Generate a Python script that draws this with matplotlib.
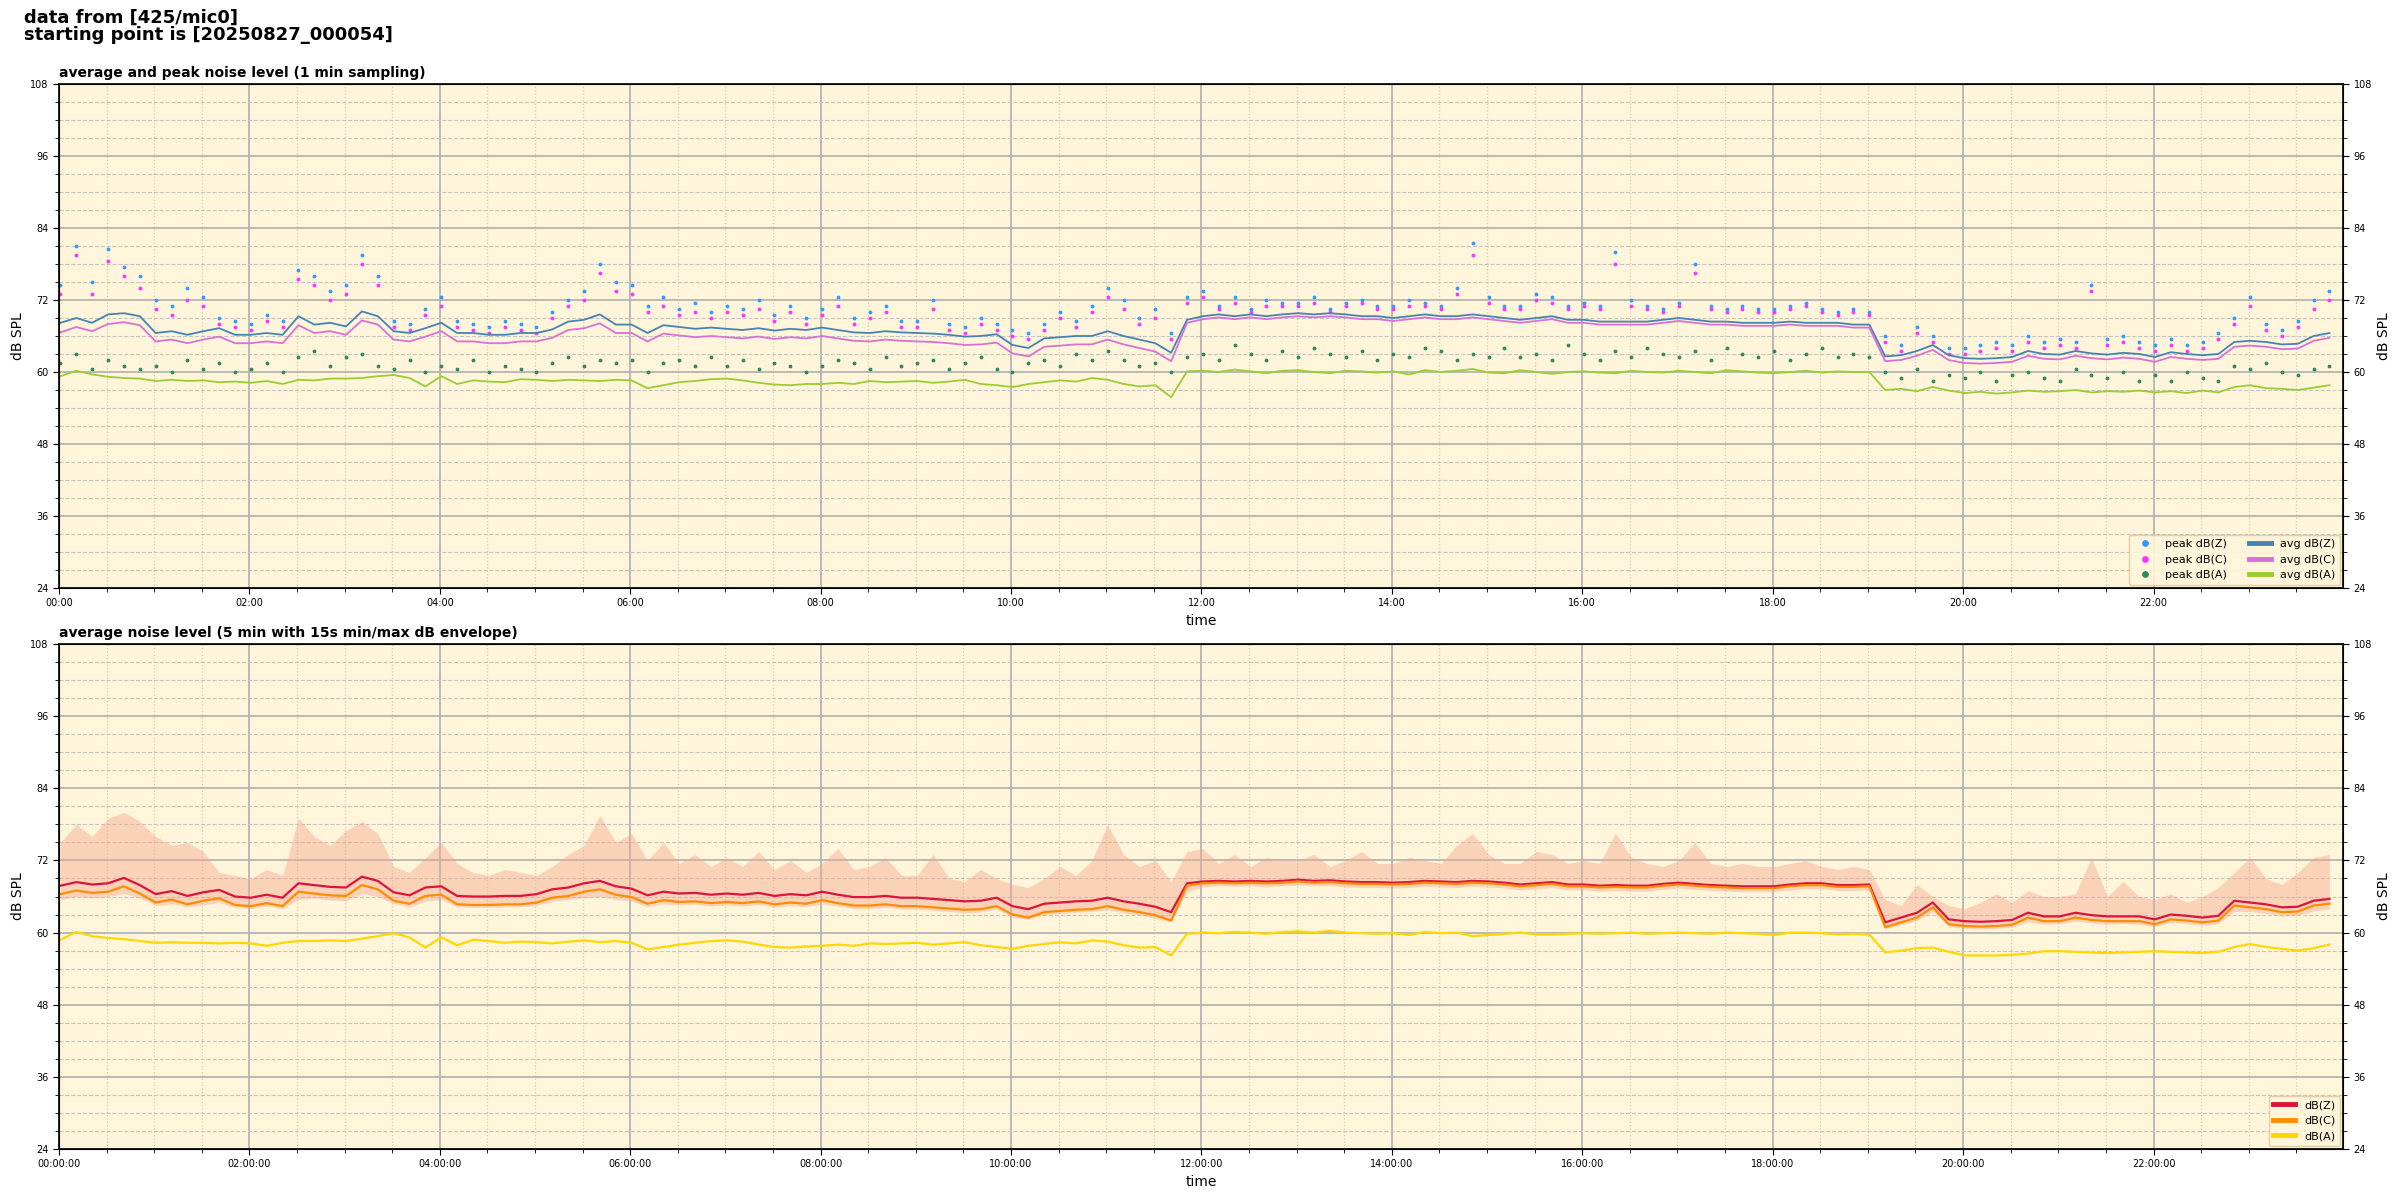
import numpy as np
import pandas as pd
import matplotlib
matplotlib.use("Agg")
from matplotlib import pyplot as plt
import matplotlib.dates as mdates
from matplotlib.ticker import MultipleLocator

# 10 min readings, 24 rows of 6 (one row per hour)
avg_z = [
    68.2, 69.0, 68.2, 69.6, 69.8, 69.3,
    66.5, 66.8, 66.2, 66.8, 67.3, 66.2,
    66.2, 66.5, 66.2, 69.3, 67.9, 68.2,
    67.6, 70.1, 69.3, 66.8, 66.5, 67.3,
    68.2, 66.5, 66.5, 66.2, 66.2, 66.5,
    66.5, 67.1, 68.4, 68.7, 69.6, 67.9,
    67.9, 66.5, 67.8, 67.5, 67.2, 67.4,
    67.2, 67.0, 67.3, 66.9, 67.2, 67.0,
    67.4, 67.0, 66.6, 66.5, 66.8, 66.6,
    66.5, 66.4, 66.2, 65.9, 66.0, 66.3,
    64.5, 64.0, 65.6, 65.8, 66.0, 66.0,
    66.8, 66.0, 65.4, 64.8, 63.2, 68.7,
    69.3, 69.6, 69.3, 69.6, 69.3, 69.6,
    69.8, 69.6, 69.8, 69.6, 69.3, 69.3,
    69.0, 69.3, 69.6, 69.3, 69.3, 69.6,
    69.3, 69.0, 68.7, 69.0, 69.3, 68.7,
    68.7, 68.4, 68.4, 68.4, 68.4, 68.7,
    69.0, 68.7, 68.4, 68.4, 68.2, 68.2,
    68.2, 68.4, 68.2, 68.2, 68.2, 67.9,
    67.9, 62.6, 62.8, 63.5, 64.5, 62.8,
    62.3, 62.2, 62.3, 62.5, 63.5, 63.0,
    62.9, 63.5, 63.1, 62.9, 63.2, 63.0,
    62.5, 63.3, 63.0, 62.8, 63.0, 65.0,
    65.2, 65.0, 64.6, 64.7, 66.0, 66.5,
]
avg_c = [
    66.6, 67.5, 66.8, 68.0, 68.3, 67.8,
    65.1, 65.4, 64.8, 65.4, 65.9, 64.8,
    64.8, 65.1, 64.8, 67.8, 66.5, 66.8,
    66.2, 68.6, 67.9, 65.4, 65.1, 65.9,
    66.8, 65.1, 65.1, 64.8, 64.8, 65.1,
    65.1, 65.7, 67.0, 67.3, 68.1, 66.5,
    66.5, 65.1, 66.4, 66.1, 65.8, 66.0,
    65.8, 65.6, 65.9, 65.5, 65.8, 65.6,
    66.0, 65.6, 65.2, 65.1, 65.4, 65.2,
    65.1, 65.0, 64.8, 64.5, 64.6, 64.9,
    63.1, 62.6, 64.2, 64.4, 64.6, 64.6,
    65.4, 64.6, 64.0, 63.4, 61.8, 68.2,
    68.8, 69.1, 68.8, 69.1, 68.8, 69.1,
    69.3, 69.1, 69.3, 69.1, 68.8, 68.8,
    68.5, 68.8, 69.1, 68.8, 68.8, 69.1,
    68.8, 68.5, 68.2, 68.5, 68.8, 68.2,
    68.2, 67.9, 67.9, 67.9, 67.9, 68.2,
    68.5, 68.2, 67.9, 67.9, 67.7, 67.7,
    67.7, 67.9, 67.7, 67.7, 67.7, 67.4,
    67.4, 61.8, 62.0, 62.7, 63.7, 62.0,
    61.5, 61.4, 61.5, 61.7, 62.7, 62.2,
    62.1, 62.7, 62.3, 62.1, 62.4, 62.2,
    61.7, 62.5, 62.2, 62.0, 62.2, 64.2,
    64.4, 64.2, 63.8, 63.9, 65.2, 65.7,
]
avg_a = [
    59.3, 60.2, 59.6, 59.2, 59.0, 58.9,
    58.5, 58.7, 58.5, 58.6, 58.3, 58.4,
    58.2, 58.5, 58.0, 58.7, 58.6, 58.9,
    58.9, 59.0, 59.3, 59.5, 59.0, 57.6,
    59.3, 58.0, 58.6, 58.4, 58.3, 58.8,
    58.7, 58.5, 58.7, 58.6, 58.5, 58.7,
    58.6, 57.3, 57.8, 58.3, 58.5, 58.8,
    58.9, 58.6, 58.2, 57.9, 57.8, 58.0,
    58.0, 58.2, 58.0, 58.5, 58.3, 58.4,
    58.5, 58.2, 58.4, 58.7, 58.0, 57.8,
    57.5, 58.0, 58.3, 58.6, 58.4, 59.0,
    58.7, 58.0, 57.6, 57.8, 55.8, 60.1,
    60.2, 60.0, 60.4, 60.1, 59.8, 60.2,
    60.3, 60.0, 59.8, 60.2, 60.1, 59.9,
    60.1, 59.6, 60.3, 60.0, 60.2, 60.5,
    59.9, 59.8, 60.3, 60.0, 59.7, 60.0,
    60.1, 59.9, 59.8, 60.2, 60.0, 59.9,
    60.2, 60.0, 59.8, 60.3, 60.1, 59.9,
    59.8, 60.0, 60.2, 59.9, 60.1, 60.0,
    60.0, 57.0, 57.2, 56.8, 57.5, 56.9,
    56.5, 56.7, 56.4, 56.6, 56.9, 56.7,
    56.8, 57.0, 56.6, 56.8, 56.7, 56.9,
    56.6, 56.8, 56.5, 56.9, 56.6, 57.5,
    57.8, 57.3, 57.2, 57.0, 57.4, 57.8,
]
peak_z = [
    74.5, 81.0, 75.0, 80.5, 77.5, 76.0,
    72.0, 71.0, 74.0, 72.5, 69.0, 68.5,
    68.0, 69.5, 68.5, 77.0, 76.0, 73.5,
    74.5, 79.5, 76.0, 68.5, 68.0, 70.5,
    72.5, 68.5, 68.0, 67.5, 68.5, 68.0,
    67.5, 70.0, 72.0, 73.5, 78.0, 75.0,
    74.5, 71.0, 72.5, 70.5, 71.5, 70.0,
    71.0, 70.5, 72.0, 69.5, 71.0, 69.0,
    70.5, 72.5, 69.0, 70.0, 71.0, 68.5,
    68.5, 72.0, 68.0, 67.5, 69.0, 68.0,
    67.0, 66.5, 68.0, 70.0, 68.5, 71.0,
    74.0, 72.0, 69.0, 70.5, 66.5, 72.5,
    73.5, 71.0, 72.5, 70.5, 72.0, 71.5,
    71.5, 72.5, 70.5, 71.5, 72.0, 71.0,
    71.0, 72.0, 71.5, 71.0, 74.0, 81.5,
    72.5, 71.0, 71.0, 73.0, 72.5, 71.0,
    71.5, 71.0, 80.0, 72.0, 71.0, 70.5,
    71.5, 78.0, 71.0, 70.5, 71.0, 70.5,
    70.5, 71.0, 71.5, 70.5, 70.0, 70.5,
    70.0, 66.0, 64.5, 67.5, 66.0, 64.0,
    64.0, 64.5, 65.0, 64.5, 66.0, 65.0,
    65.5, 65.0, 74.5, 65.5, 66.0, 65.0,
    64.5, 65.5, 64.5, 65.0, 66.5, 69.0,
    72.5, 68.0, 67.0, 68.5, 72.0, 73.5,
]
peak_c = [
    73.0, 79.5, 73.0, 78.5, 76.0, 74.0,
    70.5, 69.5, 72.0, 71.0, 68.0, 67.5,
    67.0, 68.5, 67.5, 75.5, 74.5, 72.0,
    73.0, 78.0, 74.5, 67.5, 67.0, 69.5,
    71.0, 67.5, 67.0, 66.5, 67.5, 67.0,
    66.5, 69.0, 71.0, 72.0, 76.5, 73.5,
    73.0, 70.0, 71.0, 69.5, 70.0, 69.0,
    70.0, 69.5, 70.5, 68.5, 70.0, 68.0,
    69.5, 71.0, 68.0, 69.0, 70.0, 67.5,
    67.5, 70.5, 67.0, 66.5, 68.0, 67.0,
    66.0, 65.5, 67.0, 69.0, 67.5, 70.0,
    72.5, 70.5, 68.0, 69.0, 65.5, 71.5,
    72.5, 70.5, 71.5, 70.0, 71.0, 71.0,
    71.0, 71.5, 70.0, 71.0, 71.5, 70.5,
    70.5, 71.0, 71.0, 70.5, 73.0, 79.5,
    71.5, 70.5, 70.5, 72.0, 71.5, 70.5,
    71.0, 70.5, 78.0, 71.0, 70.5, 70.0,
    71.0, 76.5, 70.5, 70.0, 70.5, 70.0,
    70.0, 70.5, 71.0, 70.0, 69.5, 70.0,
    69.5, 65.0, 63.5, 66.5, 65.0, 63.0,
    63.0, 63.5, 64.0, 63.5, 65.0, 64.0,
    64.5, 64.0, 73.5, 64.5, 65.0, 64.0,
    63.5, 64.5, 63.5, 64.0, 65.5, 68.0,
    71.0, 67.0, 66.0, 67.5, 70.5, 72.0,
]
peak_a = [
    61.5, 63.0, 60.5, 62.0, 61.0, 60.5,
    61.0, 60.0, 62.0, 60.5, 61.5, 60.0,
    60.5, 61.5, 60.0, 62.5, 63.5, 61.0,
    62.5, 63.0, 61.0, 60.5, 62.0, 60.0,
    61.0, 60.5, 62.0, 60.0, 61.0, 60.5,
    60.0, 61.5, 62.5, 61.0, 62.0, 61.5,
    62.0, 60.0, 61.5, 62.0, 61.0, 62.5,
    61.0, 62.0, 60.5, 61.5, 61.0, 60.0,
    61.0, 62.0, 61.5, 60.5, 62.5, 61.0,
    61.5, 62.0, 60.5, 61.5, 62.5, 60.5,
    60.0, 61.5, 62.0, 61.0, 63.0, 62.0,
    63.5, 62.0, 61.0, 61.5, 60.0, 62.5,
    63.0, 62.0, 64.5, 63.0, 62.0, 63.5,
    62.5, 64.0, 63.0, 62.5, 63.5, 62.0,
    63.0, 62.5, 64.0, 63.5, 62.0, 63.0,
    62.5, 64.0, 62.5, 63.0, 62.0, 64.5,
    63.0, 62.0, 63.5, 62.5, 64.0, 63.0,
    62.5, 63.5, 62.0, 64.0, 63.0, 62.5,
    63.5, 62.0, 63.0, 64.0, 62.5, 63.0,
    62.5, 60.0, 59.0, 60.5, 58.5, 59.5,
    59.0, 60.0, 58.5, 59.5, 60.0, 59.0,
    58.5, 60.5, 59.5, 59.0, 60.0, 58.5,
    59.5, 58.5, 60.0, 59.0, 58.5, 61.0,
    60.5, 61.5, 60.0, 59.5, 60.5, 61.0,
]
# lower panel: 5 min averages and 15 s envelope, read every 10 min
env_z = [
    67.8, 68.4, 68.0, 68.2, 69.1, 67.9,
    66.4, 66.9, 66.1, 66.7, 67.1, 66.0,
    65.8, 66.3, 65.8, 68.2, 67.9, 67.6,
    67.5, 69.3, 68.6, 66.7, 66.2, 67.5,
    67.7, 66.1, 66.0, 66.0, 66.1, 66.1,
    66.4, 67.2, 67.5, 68.2, 68.6, 67.7,
    67.3, 66.2, 66.8, 66.5, 66.6, 66.3,
    66.5, 66.3, 66.6, 66.1, 66.4, 66.2,
    66.8, 66.3, 65.9, 65.9, 66.1, 65.8,
    65.8, 65.6, 65.4, 65.2, 65.3, 65.8,
    64.4, 63.9, 64.8, 65.0, 65.2, 65.3,
    65.8, 65.2, 64.8, 64.3, 63.4, 68.2,
    68.5, 68.6, 68.5, 68.6, 68.5, 68.6,
    68.8, 68.6, 68.7, 68.5, 68.4, 68.4,
    68.3, 68.4, 68.6, 68.5, 68.4, 68.6,
    68.5, 68.3, 68.0, 68.2, 68.4, 68.0,
    68.0, 67.8, 67.9, 67.8, 67.8, 68.1,
    68.3, 68.1, 67.9, 67.8, 67.7, 67.7,
    67.7, 68.0, 68.2, 68.2, 67.9, 67.9,
    68.0, 61.7, 62.5, 63.3, 65.0, 62.2,
    61.9, 61.8, 61.9, 62.1, 63.3, 62.7,
    62.7, 63.3, 62.9, 62.7, 62.7, 62.7,
    62.2, 63.0, 62.8, 62.5, 62.8, 65.3,
    65.0, 64.7, 64.2, 64.3, 65.3, 65.6,
]
env_c = [
    66.4, 67.0, 66.6, 66.8, 67.7, 66.5,
    65.0, 65.5, 64.7, 65.3, 65.7, 64.6,
    64.4, 64.9, 64.4, 66.8, 66.5, 66.2,
    66.1, 67.9, 67.2, 65.3, 64.8, 66.1,
    66.3, 64.7, 64.6, 64.6, 64.7, 64.7,
    65.0, 65.8, 66.1, 66.8, 67.2, 66.3,
    65.9, 64.8, 65.4, 65.1, 65.2, 64.9,
    65.1, 64.9, 65.2, 64.7, 65.0, 64.8,
    65.4, 64.9, 64.5, 64.5, 64.7, 64.4,
    64.4, 64.2, 64.0, 63.8, 63.9, 64.4,
    63.0, 62.5, 63.4, 63.6, 63.8, 63.9,
    64.4, 63.8, 63.4, 62.9, 62.0, 67.8,
    68.2, 68.3, 68.2, 68.3, 68.2, 68.3,
    68.5, 68.3, 68.4, 68.2, 68.1, 68.1,
    68.0, 68.1, 68.3, 68.2, 68.1, 68.3,
    68.2, 68.0, 67.7, 67.9, 68.1, 67.7,
    67.7, 67.5, 67.6, 67.5, 67.5, 67.8,
    68.0, 67.8, 67.6, 67.5, 67.4, 67.4,
    67.4, 67.7, 67.9, 67.9, 67.6, 67.6,
    67.7, 60.9, 61.7, 62.5, 64.2, 61.4,
    61.1, 61.0, 61.1, 61.3, 62.5, 61.9,
    61.9, 62.5, 62.1, 61.9, 61.9, 61.9,
    61.4, 62.2, 62.0, 61.7, 62.0, 64.5,
    64.2, 63.9, 63.4, 63.5, 64.5, 64.8,
]
env_a = [
    58.8, 60.1, 59.4, 59.1, 58.9, 58.6,
    58.3, 58.4, 58.3, 58.3, 58.2, 58.3,
    58.2, 57.8, 58.3, 58.6, 58.6, 58.7,
    58.6, 59.0, 59.4, 59.9, 59.2, 57.5,
    59.2, 57.9, 58.8, 58.6, 58.3, 58.5,
    58.4, 58.2, 58.5, 58.7, 58.4, 58.6,
    58.3, 57.2, 57.6, 58.0, 58.3, 58.6,
    58.7, 58.5, 58.0, 57.6, 57.5, 57.7,
    57.8, 58.0, 57.8, 58.2, 58.1, 58.2,
    58.3, 58.0, 58.2, 58.4, 57.9, 57.6,
    57.3, 57.8, 58.1, 58.4, 58.2, 58.7,
    58.5, 57.9, 57.5, 57.6, 56.2, 59.8,
    60.0, 59.9, 60.1, 60.0, 59.8, 60.1,
    60.2, 60.0, 60.3, 60.0, 59.9, 59.8,
    59.9, 59.6, 60.1, 59.9, 60.0, 59.4,
    59.6, 59.8, 60.0, 59.7, 59.7, 59.8,
    59.9, 59.8, 59.9, 60.0, 59.8, 59.9,
    60.0, 59.9, 59.8, 60.0, 59.9, 59.8,
    59.6, 60.0, 60.0, 59.9, 59.7, 59.8,
    59.7, 56.7, 57.0, 57.4, 57.5, 56.8,
    56.2, 56.2, 56.2, 56.3, 56.5, 56.9,
    56.9, 56.8, 56.7, 56.6, 56.7, 56.8,
    56.9, 56.8, 56.7, 56.6, 56.8, 57.6,
    58.1, 57.6, 57.3, 57.0, 57.4, 58.0,
]
env_max = [
    75.0, 78.0, 76.0, 79.0, 80.0, 78.5,
    76.0, 74.5, 75.0, 73.5, 70.0, 69.5,
    69.0, 70.5, 69.5, 79.0, 76.0, 74.5,
    77.0, 78.5, 76.5, 71.0, 70.0, 72.5,
    75.0, 71.5, 70.0, 69.5, 70.5, 70.0,
    69.5, 71.0, 73.0, 74.5, 79.5, 75.0,
    76.5, 72.0, 75.0, 71.5, 73.0, 71.0,
    72.5, 71.0, 73.5, 70.5, 72.0, 70.0,
    71.5, 74.0, 70.5, 71.0, 72.5, 69.5,
    69.5, 73.0, 69.0, 68.5, 70.5, 69.0,
    68.0, 67.5, 69.0, 71.0, 69.5, 72.0,
    78.0, 73.0, 71.0, 72.0, 68.5, 73.5,
    74.0, 71.5, 73.0, 71.0, 72.5, 72.0,
    72.0, 73.0, 71.0, 72.0, 73.5, 71.5,
    71.5, 72.5, 72.0, 71.5, 74.5, 76.5,
    73.0, 71.5, 71.5, 73.5, 73.0, 71.5,
    72.0, 71.5, 76.5, 72.5, 71.5, 71.0,
    72.0, 75.0, 71.5, 71.0, 71.5, 71.0,
    71.0, 71.5, 72.0, 71.0, 70.5, 71.0,
    70.5, 65.5, 64.5, 68.0, 66.0, 64.5,
    64.0, 65.0, 66.5, 65.0, 67.0, 66.0,
    66.0, 66.5, 72.5, 66.0, 68.5, 66.0,
    65.5, 66.5, 65.0, 66.0, 67.5, 70.0,
    72.5, 69.0, 68.0, 70.0, 72.5, 73.0,
]
env_min = [
    65.5, 66.0, 65.8, 66.0, 66.5, 65.8,
    64.5, 64.8, 64.3, 64.6, 65.0, 64.2,
    64.0, 64.4, 64.0, 65.5, 65.8, 65.4,
    65.3, 66.5, 66.0, 64.8, 64.3, 65.2,
    65.5, 64.3, 64.2, 64.2, 64.3, 64.3,
    64.5, 65.2, 65.5, 65.8, 66.0, 65.5,
    65.2, 64.3, 64.8, 64.6, 64.7, 64.4,
    64.6, 64.4, 64.7, 64.2, 64.5, 64.3,
    64.8, 64.4, 64.0, 64.0, 64.2, 63.9,
    63.9, 63.7, 63.5, 63.3, 63.4, 63.9,
    62.6, 62.2, 63.0, 63.2, 63.4, 63.5,
    63.8, 63.3, 62.9, 62.4, 61.8, 66.8,
    67.6, 67.8, 67.7, 67.8, 67.6, 67.8,
    67.9, 67.8, 67.8, 67.6, 67.5, 67.5,
    67.4, 67.5, 67.7, 67.6, 67.5, 67.7,
    67.6, 67.4, 67.1, 67.3, 67.5, 67.1,
    67.1, 66.9, 67.0, 66.9, 66.9, 67.2,
    67.4, 67.2, 67.0, 66.9, 66.8, 66.8,
    66.8, 67.1, 67.3, 67.3, 67.0, 67.0,
    67.1, 60.6, 61.3, 62.0, 63.5, 61.0,
    60.7, 60.6, 60.7, 60.9, 61.8, 61.4,
    61.5, 61.9, 61.6, 61.4, 61.5, 61.4,
    61.0, 61.7, 61.5, 61.2, 61.5, 63.5,
    63.5, 63.2, 62.8, 62.9, 63.6, 64.0,
]

start = pd.Timestamp("2025-08-27 00:00:54")
times = start + pd.to_timedelta(np.arange(len(avg_z)) * 10, unit="min")

FACE = "#fff5da"


def style_axes(ax: plt.Axes, fmt: str) -> None:
    ax.set_facecolor(FACE)
    ax.set_ylim(24, 108)
    ax.yaxis.set_major_locator(MultipleLocator(12))
    ax.yaxis.set_minor_locator(MultipleLocator(3))
    ax.set_xlim(pd.Timestamp("2025-08-27 00:00:00"), pd.Timestamp("2025-08-27 23:59:30"))
    ax.xaxis.set_major_locator(mdates.HourLocator(byhour=range(0, 24, 2)))
    ax.xaxis.set_minor_locator(mdates.MinuteLocator(byminute=[0, 30]))
    ax.xaxis.set_major_formatter(mdates.DateFormatter(fmt))
    ax.tick_params(labelsize=7, length=4)
    ax.tick_params(which="minor", length=3)
    ax.grid(which="major", color="#b4b4b4", lw=1.3)
    ax.grid(which="minor", axis="y", color="#c4c4c4", ls="--", lw=0.8)
    ax.grid(which="minor", axis="x", color="#d8cdb0", ls=":", lw=0.9)
    ax.set_axisbelow(True)
    ax.set_xlabel("time", fontsize=10)
    ax.set_ylabel("dB SPL", fontsize=10)
    for s in ax.spines.values():
        s.set_linewidth(1.2)

    rax = ax.twinx()
    rax.set_ylim(24, 108)
    rax.yaxis.set_major_locator(MultipleLocator(12))
    rax.yaxis.set_minor_locator(MultipleLocator(3))
    rax.tick_params(labelsize=7, length=4)
    rax.tick_params(which="minor", length=3)
    rax.set_ylabel("dB SPL", fontsize=10)


fig = plt.figure(figsize=(24, 12), dpi=100)
fig.text(0.01, 0.993, "data from [425/mic0]\nstarting point is [20250827_000054]",
         fontsize=13, fontweight="bold", va="top", ha="left", linespacing=1.0)

ax1 = fig.add_axes([0.0246, 0.51, 0.9517, 0.42])
ax1.plot(times, peak_z, ".", color="#3399ff", ms=3.5, label="peak dB(Z)")
ax1.plot(times, peak_c, ".", color="#ff33ff", ms=3.5, label="peak dB(C)")
ax1.plot(times, peak_a, ".", color="#2e8b57", ms=3.5, label="peak dB(A)")
ax1.plot(times, avg_z, color="#4682b4", lw=1.3, label="avg dB(Z)")
ax1.plot(times, avg_c, color="#da70d6", lw=1.3, label="avg dB(C)")
ax1.plot(times, avg_a, color="#9acd32", lw=1.3, label="avg dB(A)")
ax1.set_title("average and peak noise level (1 min sampling)", loc="left",
              fontsize=10, fontweight="bold", pad=5)
leg1 = ax1.legend(loc="lower right", ncol=2, fontsize=8, markerscale=2.2,
                  facecolor=FACE, edgecolor="#e0c9a0", framealpha=0.9, borderaxespad=0.3)
for ln in leg1.get_lines():
    ln.set_linewidth(3.5)
style_axes(ax1, "%H:%M")

ax2 = fig.add_axes([0.0246, 0.0425, 0.9517, 0.4208])
ax2.fill_between(times, env_min, env_max, color="#f4a890", alpha=0.45, lw=0)
ax2.plot(times, env_z, color="#dc143c", lw=1.6, label="dB(Z)")
ax2.plot(times, env_c, color="#ff8c00", lw=1.6, label="dB(C)")
ax2.plot(times, env_a, color="#ffd700", lw=1.6, label="dB(A)")
ax2.set_title("average noise level (5 min with 15s min/max dB envelope)", loc="left",
              fontsize=10, fontweight="bold", pad=5)
leg2 = ax2.legend(loc="lower right", fontsize=8, facecolor=FACE,
                  edgecolor="#e0c9a0", framealpha=0.9, borderaxespad=0.3)
for ln in leg2.get_lines():
    ln.set_linewidth(3.5)
style_axes(ax2, "%H:%M:%S")

fig.savefig("out.png", dpi=100)
